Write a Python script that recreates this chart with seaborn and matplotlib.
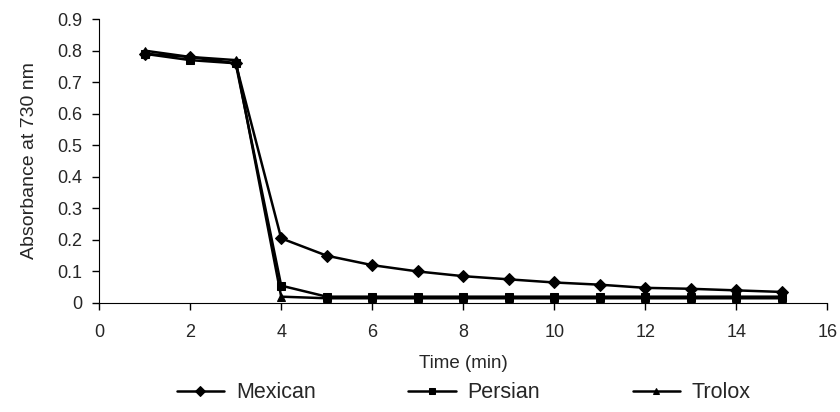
import matplotlib
matplotlib.use("Agg")
import matplotlib.pyplot as plt
import seaborn as sns
import pandas as pd

time = [1, 2, 3, 4, 5, 6, 7, 8, 9, 10, 11, 12, 13, 14, 15]
mexican = [0.79, 0.78, 0.76, 0.205, 0.15, 0.12, 0.10, 0.085, 0.075, 0.065, 0.058, 0.048, 0.045, 0.040, 0.035]
persian = [0.79, 0.77, 0.76, 0.055, 0.02, 0.02, 0.02, 0.02, 0.02, 0.02, 0.02, 0.02, 0.02, 0.02, 0.02]
trolox = [0.80, 0.78, 0.77, 0.02, 0.015, 0.015, 0.015, 0.015, 0.015, 0.015, 0.015, 0.015, 0.015, 0.015, 0.015]

df = pd.DataFrame({"Time": time * 3,
                   "Absorbance": mexican + persian + trolox,
                   "Sample": ["Mexican"] * 15 + ["Persian"] * 15 + ["Trolox"] * 15})

sns.set_style("ticks")
plt.rcParams["font.family"] = ["Liberation Sans", "DejaVu Sans"]

fig = plt.figure(figsize=(8.4, 4.12), dpi=100)
ax = fig.add_axes([0.118, 0.2646, 0.867, 0.689])

sns.lineplot(data=df, x="Time", y="Absorbance", hue="Sample", style="Sample",
             palette=["black"] * 3, markers=["D", "s", "^"], dashes=False,
             markersize=6, linewidth=1.8, markeredgecolor="black", ax=ax, legend=True)

ax.set_xlim(0, 16)
ax.set_ylim(0, 0.9)
ax.set_xticks(range(0, 17, 2))
ax.set_yticks([i / 10 for i in range(10)])
ax.set_yticklabels(["0"] + [f"{i/10:.1f}" for i in range(1, 10)])
ax.set_xlabel("Time (min)", fontsize=13.5, labelpad=10)
ax.set_ylabel("Absorbance at 730 nm", fontsize=14, labelpad=14)
ax.tick_params(labelsize=13, direction="out", length=5, color="black", width=1)
ax.tick_params(axis="x", pad=10)
ax.tick_params(axis="y", pad=7)
for s in ["left", "bottom"]:
    ax.spines[s].set_color("black")
sns.despine(ax=ax)

handles, labels = ax.get_legend_handles_labels()
for h in handles:
    h.set_markersize(5)
ax.legend(handles, labels, loc="center", bbox_to_anchor=(0.552, 0.047),
          bbox_transform=fig.transFigure, ncol=3, frameon=False,
          fontsize=15.5, columnspacing=4.3, handlelength=2.2, handletextpad=0.55)

fig.savefig("out.png", dpi=100)
